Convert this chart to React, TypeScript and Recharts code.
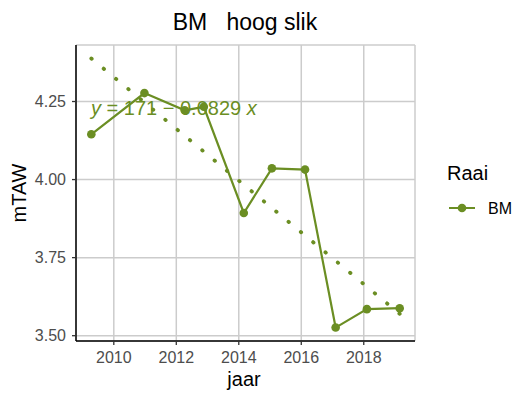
import React from 'react';
import { LineChart, Line, XAxis, YAxis, CartesianGrid, Customized } from 'recharts';

// waarden
const years = [2009.28, 2010.98, 2012.27, 2012.88, 2014.16, 2015.06, 2016.12, 2017.1, 2018.1, 2019.15];
const mtaw = [4.145, 4.277, 4.222, 4.233, 3.893, 4.036, 4.032, 3.526, 3.585, 3.588];
// regressielijn y = 171 - 0.0829 x, eindpunten
const trendYears = [2009.28, 2019.15];
const trendValues = [4.388, 3.57];
const xTicks = [2010, 2012, 2014, 2016, 2018];
const yTicks = [3.5, 3.75, 4.0, 4.25];

const GREEN = '#6B8E23';
const FONT = '"Liberation Sans", Arial, sans-serif';

const points = years.map((jaar, i) => ({ jaar, mTAW: mtaw[i] }));
const trend = trendYears.map((jaar, i) => ({ jaar, fit: trendValues[i] }));

function Overlay() {
  return (
    <g fontFamily={FONT}>
      <text x={245} y={30} textAnchor="middle" fontSize={23} fill="#000" style={{ whiteSpace: 'pre' }}>
        {'BM   hoog slik'}
      </text>
      <text x={91} y={115} fontSize={20} fill={GREEN}>
        <tspan fontStyle="italic">y</tspan>
        {' = 171 − 0.0829 '}
        <tspan fontStyle="italic">x</tspan>
      </text>
      <text x={26} y={193} fontSize={20} textAnchor="middle" transform="rotate(-90 26 193)" fill="#000">
        mTAW
      </text>
      <text x={244} y={386} fontSize={20} textAnchor="middle" fill="#000">
        jaar
      </text>
      <text x={447} y={180} fontSize={20} fill="#000">
        Raai
      </text>
      <line x1={449} x2={475} y1={208} y2={208} stroke={GREEN} strokeWidth={2} />
      <circle cx={462} cy={208} r={4.3} fill={GREEN} />
      <text x={488} y={213.5} fontSize={16} fill="#000">
        BM
      </text>
    </g>
  );
}

export default function App() {
  return (
    <div style={{ position: 'absolute', left: 0, top: 0 }}>
      <LineChart width={515} height={394} margin={{ top: 45, right: 100, bottom: 0, left: 0 }}>
        <CartesianGrid stroke="#CCCCCC" strokeWidth={1.5} />
        <XAxis
          dataKey="jaar"
          type="number"
          domain={[2008.79, 2019.64]}
          ticks={xTicks}
          allowDataOverflow
          height={53}
          tickSize={4}
          tickMargin={7}
          axisLine={{ stroke: '#000', strokeWidth: 1.5 }}
          tickLine={{ stroke: '#333', strokeWidth: 1.3 }}
          tick={{ fill: '#4D4D4D', fontSize: 16, fontFamily: FONT }}
        />
        <YAxis
          type="number"
          domain={[3.483, 4.431]}
          ticks={yTicks}
          allowDataOverflow
          width={76}
          tickSize={4}
          tickMargin={6}
          tickFormatter={(v: number) => v.toFixed(2)}
          axisLine={{ stroke: '#000', strokeWidth: 1.5 }}
          tickLine={{ stroke: '#333', strokeWidth: 1.3 }}
          tick={{ fill: '#4D4D4D', fontSize: 16, fontFamily: FONT }}
        />
        <Line
          data={trend}
          dataKey="fit"
          type="linear"
          stroke={GREEN}
          strokeWidth={3.8}
          strokeDasharray="0.5 15.5"
          strokeLinecap="round"
          dot={false}
          activeDot={false}
          isAnimationActive={false}
        />
        <Line
          data={points}
          dataKey="mTAW"
          type="linear"
          stroke={GREEN}
          strokeWidth={2.2}
          dot={{ r: 4.3, fill: GREEN, stroke: GREEN, strokeWidth: 0 }}
          activeDot={false}
          isAnimationActive={false}
        />
        <Customized component={Overlay} />
      </LineChart>
    </div>
  );
}
